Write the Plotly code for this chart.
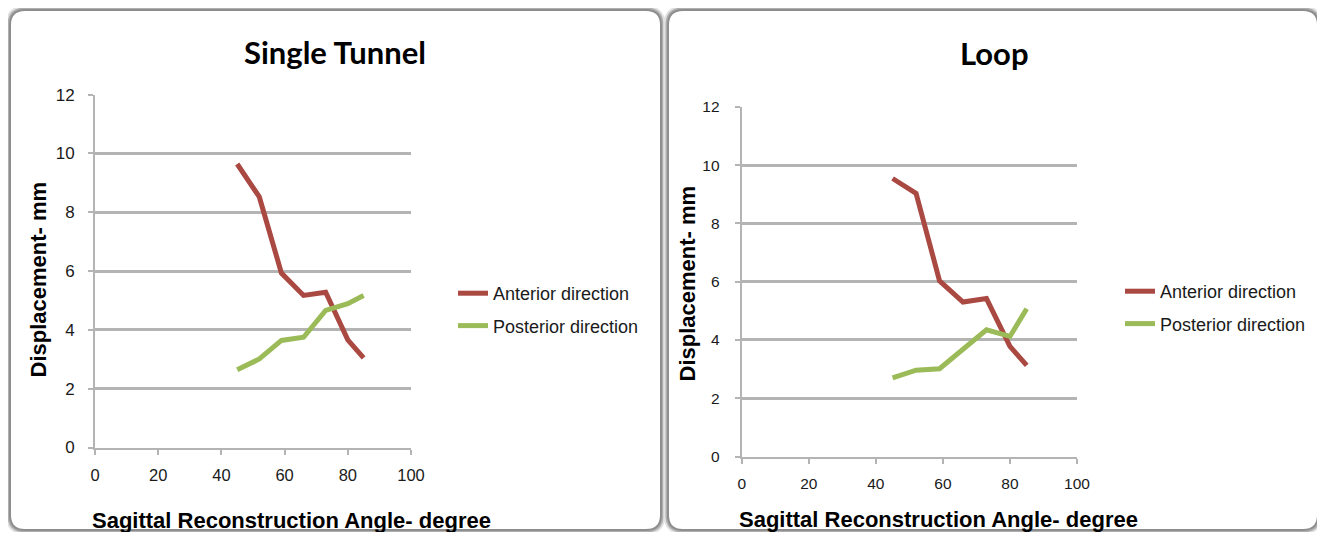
import plotly.graph_objects as go

# figure size chosen so that page (with default 8px body margin) fits the window
FW, FH = 1309, 524
OX, OY = 8, 8

# ---- data ----
angles = [45, 52, 59, 66, 73, 80, 85]
single_anterior = [9.64, 8.52, 5.93, 5.17, 5.28, 3.66, 3.05]
single_posterior = [2.64, 3.01, 3.64, 3.75, 4.66, 4.89, 5.17]
loop_anterior = [9.54, 9.03, 6.03, 5.30, 5.42, 3.78, 3.13]
loop_posterior = [2.70, 2.96, 3.01, 3.70, 4.35, 4.12, 5.07]
x_ticks = [0, 20, 40, 60, 80, 100]
y_ticks = [0, 2, 4, 6, 8, 10, 12]
panel_titles = ["Single Tunnel", "Loop"]
series_names = ["Anterior direction", "Posterior direction"]
x_title = "Sagittal Reconstruction Angle- degree"
y_title = "Displacement- mm"

RED = "#aa4842"
GREEN = "#9bbb59"
GRID = "#b4b4b4"


def px(x):
    return (x - OX) / FW


def py(y):
    return 1 - (y - OY) / FH


fig = go.Figure()

panels = [
    dict(xa="x", ya="y", xd=[px(95), px(411)], yd=[py(447.5), py(94.6)],
         ant=single_anterior, post=single_posterior, legend="legend"),
    dict(xa="x2", ya="y2", xd=[px(741.7), px(1077)], yd=[py(456.5), py(106.8)],
         ant=loop_anterior, post=loop_posterior, legend="legend2"),
]

for i, p in enumerate(panels):
    fig.add_trace(go.Scatter(x=angles, y=p["ant"], mode="lines", name=series_names[0],
                             line=dict(color=RED, width=5), xaxis=p["xa"], yaxis=p["ya"],
                             legend=p["legend"], legendgroup="a%d" % i))
    fig.add_trace(go.Scatter(x=angles, y=p["post"], mode="lines", name=series_names[1],
                             line=dict(color=GREEN, width=5), xaxis=p["xa"], yaxis=p["ya"],
                             legend=p["legend"], legendgroup="b%d" % i))


def axis_common(size):
    return dict(showline=True, linecolor=GRID, linewidth=2, ticks="outside",
                ticklen=5, tickcolor=GRID, tickwidth=2, zeroline=False,
                tickfont=dict(family="Liberation Sans, Arial", size=size, color="#1a1a1a"))


legend_font = dict(family="Liberation Sans, Arial", size=18, color="#1a1a1a")
fig.update_layout(
    width=FW, height=FH, margin=dict(l=0, r=0, t=0, b=0, autoexpand=False),
    paper_bgcolor="white", plot_bgcolor="rgba(0,0,0,0)",
    showlegend=True,
    xaxis=dict(domain=panels[0]["xd"], range=[0, 100], tickvals=x_ticks, anchor="y",
               showgrid=False, ticklabelstandoff=7, **axis_common(16.5)),
    yaxis=dict(domain=panels[0]["yd"], range=[0, 12], tickvals=y_ticks, anchor="x",
               showgrid=True, gridcolor=GRID, gridwidth=2.5, ticklabelstandoff=10, **axis_common(17)),
    xaxis2=dict(domain=panels[1]["xd"], range=[0, 100], tickvals=x_ticks, anchor="y2",
                showgrid=False, ticklabelstandoff=7, **axis_common(15.5)),
    yaxis2=dict(domain=panels[1]["yd"], range=[0, 12], tickvals=y_ticks, anchor="x2",
                showgrid=True, gridcolor=GRID, gridwidth=2.5, ticklabelstandoff=12, **axis_common(15.5)),
    legend=dict(x=px(453), y=py(275), xanchor="left", yanchor="top", bgcolor="rgba(0,0,0,0)",
                font=legend_font, traceorder="grouped", tracegroupgap=6, itemwidth=30),
    legend2=dict(x=px(1120), y=py(273), xanchor="left", yanchor="top", bgcolor="rgba(0,0,0,0)",
                 font=legend_font, traceorder="grouped", tracegroupgap=6, itemwidth=30),
)


def rounded_path(x0, y0, x1, y1, r):
    X, Y = px, py
    return (f"M {X(x0 + r)} {Y(y0)} L {X(x1 - r)} {Y(y0)} Q {X(x1)} {Y(y0)} {X(x1)} {Y(y0 + r)} "
            f"L {X(x1)} {Y(y1 - r)} Q {X(x1)} {Y(y1)} {X(x1 - r)} {Y(y1)} "
            f"L {X(x0 + r)} {Y(y1)} Q {X(x0)} {Y(y1)} {X(x0)} {Y(y1 - r)} "
            f"L {X(x0)} {Y(y0 + r)} Q {X(x0)} {Y(y0)} {X(x0 + r)} {Y(y0)} Z")


for (x0, x1) in [(10, 661), (668, 1318)]:
    y0, y1 = 10, 530
    for col, w in [("#e2e2e2", 9), ("#b0b0b0", 5), ("#8e8e8e", 2)]:
        fig.add_shape(type="path", path=rounded_path(x0, y0, x1, y1, 15), xref="paper", yref="paper",
                      line=dict(color=col, width=w), fillcolor="white", layer="below")

title_font = dict(family="Lato, Open Sans, sans-serif", size=31, color="black")
axis_font = dict(family="Liberation Sans, Arial", size=22, color="black")
ann = [
    (panel_titles[0], 334.5, 52, 0, title_font),
    (panel_titles[1], 994.5, 53, 0, title_font),
    (x_title, 291, 520.5, 0, axis_font),
    (x_title, 939, 519.5, 0, axis_font),
    (y_title, 37.5, 280, -90, axis_font),
    (y_title, 687, 283.5, -90, axis_font),
]
for text, x, y, ang, f in ann:
    fig.add_annotation(text="<b>%s</b>" % text, x=px(x), y=py(y), xref="paper", yref="paper",
                       showarrow=False, textangle=ang, font=f, xanchor="center", yanchor="middle")

fig.write_html("out.html")
